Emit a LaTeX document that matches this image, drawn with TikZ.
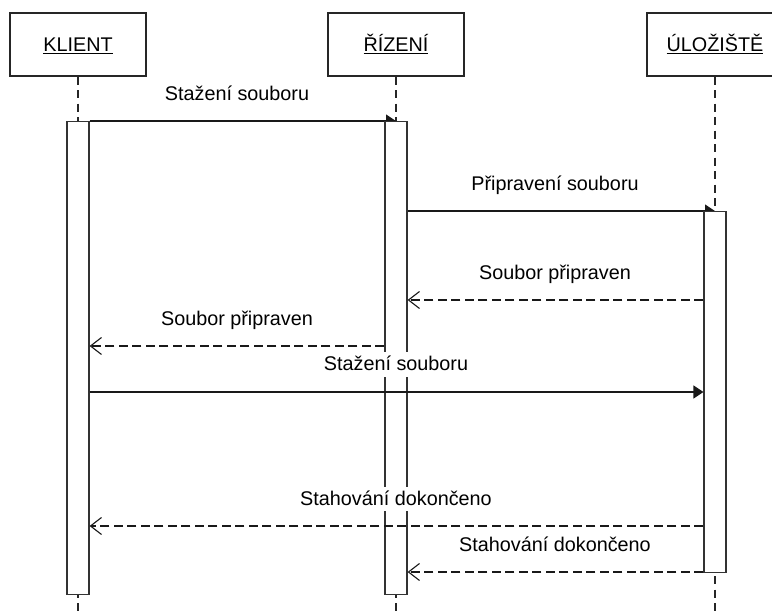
\documentclass[tikz,border=0pt]{standalone}
\usepackage{fontspec}
\setmainfont{Liberation Sans}
\usetikzlibrary{arrows.meta}

% text size used for every label in the chart
\newcommand\chartfont{\fontsize{19.8pt}{24pt}\selectfont}
% underlined participant name with a slightly heavier rule
\newsavebox\headerbox
\newcommand\headerlabel[1]{\sbox\headerbox{#1}\rlap{\rule[-2.6pt]{\wd\headerbox}{1.1pt}}\usebox\headerbox}

\pgfdeclarelayer{under}
\pgfsetlayers{under,main}

\begin{document}
\begin{tikzpicture}[x=1pt,y=-1pt,
  every node/.style={text=black},
  participant/.style={draw=black!85, line width=1.2pt, fill=white,
    minimum width=136pt, minimum height=63pt, inner sep=0pt,
    text height=14.3pt, text depth=0pt, font=\chartfont},
  lifeline/.style={draw=black!85, line width=1.2pt, dash pattern=on 8pt off 5.5pt},
  activation/.style={draw=black!80, line width=1.2pt, fill=white,
    minimum width=22pt, inner sep=0pt, anchor=north},
  callmsg/.style={draw=black!90, line width=1.2pt,
    -{Triangle[length=10pt,width=13pt]}},
  replymsg/.style={draw=black!90, line width=1.2pt, dash pattern=on 9pt off 4.5pt,
    -{Straight Barb[length=11pt,width=17pt,line width=1.1pt]}},
  msglabel/.style={fill=white, anchor=base, inner xsep=2pt, inner ysep=4pt,
    text depth=2pt, font=\chartfont}
]
\useasboundingbox (0,0) rectangle (772,612);
\clip (0,0) rectangle (772,612);

% participants
\node[participant] (klient) at (78,44.5)  {\headerlabel{KLIENT}};
\node[participant] (rizeni) at (396,44.5) {\headerlabel{ŘÍZENÍ}};
\node[participant] (uloz)   at (715,44.5) {\headerlabel{ÚLOŽIŠTĚ}};

% bottom ends of the lifelines
\coordinate (bottom) at (0,612);

% message heights
\coordinate (m1) at (0,121);
\coordinate (m2) at (0,211);
\coordinate (m3) at (0,300);
\coordinate (m4) at (0,346);
\coordinate (m5) at (0,392);
\coordinate (m6) at (0,526);
\coordinate (m7) at (0,572);

% activation bars
\node[activation, minimum height=473pt] (kbar) at (78,121)  {};
\node[activation, minimum height=473pt] (rbar) at (396,121) {};
\node[activation, minimum height=361pt] (ubar) at (715,211) {};

\begin{pgfonlayer}{under}
  % lifelines
  \draw[lifeline] (klient.south) -- (klient.south |- bottom);
  \draw[lifeline] (rizeni.south) -- (rizeni.south |- bottom);
  \draw[lifeline] (uloz.south)   -- (uloz.south |- bottom);
  % calls that open an activation end on the lifeline, under the bar
  \draw[callmsg] (kbar.east |- m1) -- (rizeni.south |- m1);
  \draw[callmsg] (rbar.east |- m2) -- (uloz.south |- m2);
\end{pgfonlayer}

% remaining messages
\draw[replymsg] (ubar.west |- m3) -- (rbar.east |- m3);
\draw[replymsg] (rbar.west |- m4) -- (kbar.east |- m4);
\draw[callmsg]  (kbar.east |- m5) -- (ubar.west |- m5);
\draw[replymsg] (ubar.west |- m6) -- (kbar.east |- m6);
\draw[replymsg] (ubar.west |- m7) -- (rbar.east |- m7);

% message labels
\node[msglabel] (l1) at (237,101)   {Stažení souboru};
\node[msglabel] (l2) at (555,191)   {Připravení souboru};
\node[msglabel] (l3) at (555,279.5) {Soubor připraven};
\node[msglabel] (l4) at (237,325.5) {Soubor připraven};
\node[msglabel] (l5) at (396,371)   {Stažení souboru};
\node[msglabel] (l6) at (396,505.5) {Stahování dokončeno};
\node[msglabel] (l7) at (555,551.5) {Stahování dokončeno};
\end{tikzpicture}
\end{document}
